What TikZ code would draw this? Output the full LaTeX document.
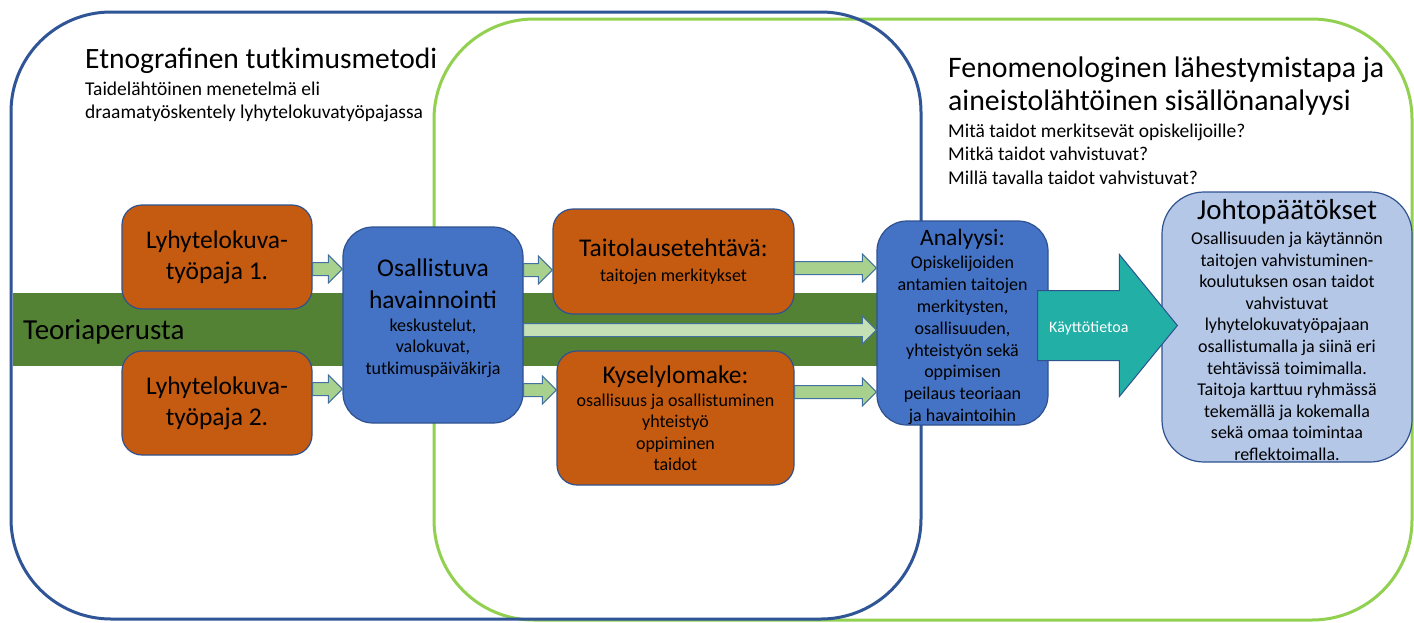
\documentclass[tikz,border=0pt]{standalone}
\usepackage{fontspec}
\setmainfont{Carlito}
\usetikzlibrary{calc}
\definecolor{frameblue}{HTML}{2F5597}
\definecolor{framegreen}{HTML}{92D050}
\definecolor{bandgreen}{HTML}{548235}
\definecolor{orng}{HTML}{C55A11}
\definecolor{bbox}{HTML}{4472C4}
\definecolor{bline}{HTML}{2F528F}
\definecolor{lbox}{HTML}{B4C7E7}
\definecolor{arrfill}{HTML}{A9D18E}
\definecolor{arrfilllight}{HTML}{C5E0B4}
\definecolor{arrline}{HTML}{41719C}
\definecolor{bigteal}{HTML}{21AFA6}
\newcommand\fs[2]{\fontsize{#1}{#2}\selectfont}
\newcommand\blockarr[3]{%
  \path[draw=arrline, line width=1pt, fill=#1] let \p1=#2, \p2=#3 in
    (\x1,\y1+6.5pt) -- (\x2-14pt,\y1+6.5pt) -- (\x2-14pt,\y1+14pt) -- (\x2,\y1)
    -- (\x2-14pt,\y1-14pt) -- (\x2-14pt,\y1-6.5pt) -- (\x1,\y1-6.5pt) -- cycle;}
\tikzset{
  hdr/.style={anchor=base west, inner sep=0pt, text=black},
  txt/.style={inner sep=0pt, align=center, text=black},
  orangebox/.style={draw=bline, line width=1.2pt, fill=orng, rounded corners=20pt, inner sep=0pt, align=center, text=black},
  bluebox/.style={draw=bline, line width=1.2pt, fill=bbox, rounded corners=30pt, inner sep=0pt},
  lightbox/.style={draw=bline, line width=1.2pt, fill=lbox, rounded corners=42pt, inner sep=0pt},
  frame/.style={line width=3pt, rounded corners=100pt}
}
\begin{document}
\begin{tikzpicture}[x=1pt,y=-1pt]
\useasboundingbox (0,0) rectangle (1414,622);
\fill[white] (0,0) rectangle (1414,622);
% theory band
\fill[bandgreen] (12.5,293) rectangle (880,366);
% frames
\draw[frame, framegreen] (434,19) rectangle (1412,620);
\draw[frame, frameblue] (11,12) rectangle (921,619);
% headers
\node[hdr, font=\fs{29.5}{33}] (etno) at (85,68) {Etnografinen tutkimusmetodi};
\node[hdr, font=\fs{19.5}{23}] (etno1) at (85,95) {Taidelähtöinen menetelmä eli};
\node[hdr, font=\fs{19.5}{23}] (etno2) at (85,118) {draamatyöskentely lyhytelokuvatyöpajassa};
\node[hdr, font=\fs{29.8}{33}] (feno1) at (948,77) {Fenomenologinen lähestymistapa ja};
\node[hdr, font=\fs{29.8}{33}] (feno2) at (948,110) {aineistolähtöinen sisällönanalyysi};
\node[hdr, font=\fs{19.5}{23}] (q1) at (948,137) {Mitä taidot merkitsevät opiskelijoille?};
\node[hdr, font=\fs{19.5}{23}] (q2) at (948,160) {Mitkä taidot vahvistuvat?};
\node[hdr, font=\fs{19.5}{23}] (q3) at (948,184) {Millä tavalla taidot vahvistuvat?};
\node[hdr, font=\fs{29}{33}] (teoria) at (23,339) {Teoriaperusta};
% boxes
\node[orangebox, font=\fs{25.5}{31}, minimum width=190pt, minimum height=104pt] (b1) at (217,257)
  {Lyhytelokuva-\\työpaja 1.};
\node[orangebox, font=\fs{25.5}{31}, minimum width=190pt, minimum height=104pt] (b2) at (217,403)
  {Lyhytelokuva-\\työpaja 2.};
\node[bluebox, minimum width=180pt, minimum height=196pt] (osal) at (433,325) {};
\node[txt, font=\fs{18}{21.6}] (osaltxt) at (433,318)
  {\fs{25.5}{32}Osallistuva\\[10.4pt]\fs{25.5}{32}havainnointi\\[1.4pt]keskustelut,\\valokuvat,\\tutkimuspäiväkirja};
\node[orangebox, font=\fs{18}{21.6}, minimum width=241pt, minimum height=105pt] (taito) at (673.5,261.5)
  {\fs{25.5}{31}Taitolausetehtävä:\\[3.4pt]taitojen merkitykset};
\node[orangebox, font=\fs{18}{21.5}, minimum width=237pt, minimum height=134pt] (kysely) at (675.5,418)
  {\fs{25.5}{31}Kyselylomake:\\[1.5pt]osallisuus ja osallistuminen\\yhteistyö\\oppiminen\\taidot};
\node[bluebox, minimum width=171pt, minimum height=204pt] (ana) at (962.5,323) {};
\node[txt, font=\fs{18}{21.8}] (anatxt) at (962.5,327)
  {\fs{23.5}{28}Analyysi:\\[1.2pt]Opiskelijoiden\\antamien taitojen\\merkitysten,\\osallisuuden,\\yhteistyön sekä\\oppimisen\\peilaus teoriaan\\ja havaintoihin};
\node[lightbox, minimum width=250pt, minimum height=270pt] (johto) at (1287,327) {};
\node[txt, font=\fs{18}{21.6}] (johtotxt) at (1287,330)
  {\fs{29}{33}Johtopäätökset\\[3.4pt]Osallisuuden ja käytännön\\taitojen vahvistuminen-\\koulutuksen osan taidot\\vahvistuvat\\lyhytelokuvatyöpajaan\\osallistumalla ja siinä eri\\tehtävissä toimimalla.\\Taitoja karttuu ryhmässä\\tekemällä ja kokemalla\\sekä omaa toimintaa\\reflektoimalla.};
% small block arrows
\blockarr{arrfill}{($(b1.east)+(0,12)$)}{(osal.west)}
\blockarr{arrfill}{($(b2.east)+(0,-14)$)}{(osal.west)}
\blockarr{arrfill}{($(osal.east)+(0,-55)$)}{(taito.west)}
\blockarr{arrfill}{($(osal.east)+(0,65)$)}{(kysely.west)}
\blockarr{arrfilllight}{($(osal.east)+(0,5)$)}{(ana.west)}
\blockarr{arrfill}{($(taito.east)+(0,6.5)$)}{(ana.west)}
\blockarr{arrfill}{($(kysely.east)+(0,-26)$)}{(ana.west)}
% big arrow
\path[draw=bline, line width=1pt, fill=bigteal]
  let \p1=($(ana.east)+(-11,2.5)$), \p2=($(johto.west)+(16,0)$) in
  (\x1,\y1+35pt) -- (\x2-58pt,\y1+35pt) -- (\x2-58pt,\y1+71pt) -- (\x2,\y1)
  -- (\x2-58pt,\y1-71pt) -- (\x2-58pt,\y1-35pt) -- (\x1,\y1-35pt) -- cycle;
\node[hdr, text=white, font=\fs{16}{19}] (kayt) at (1049,332) {Käyttötietoa};
\end{tikzpicture}
\end{document}
